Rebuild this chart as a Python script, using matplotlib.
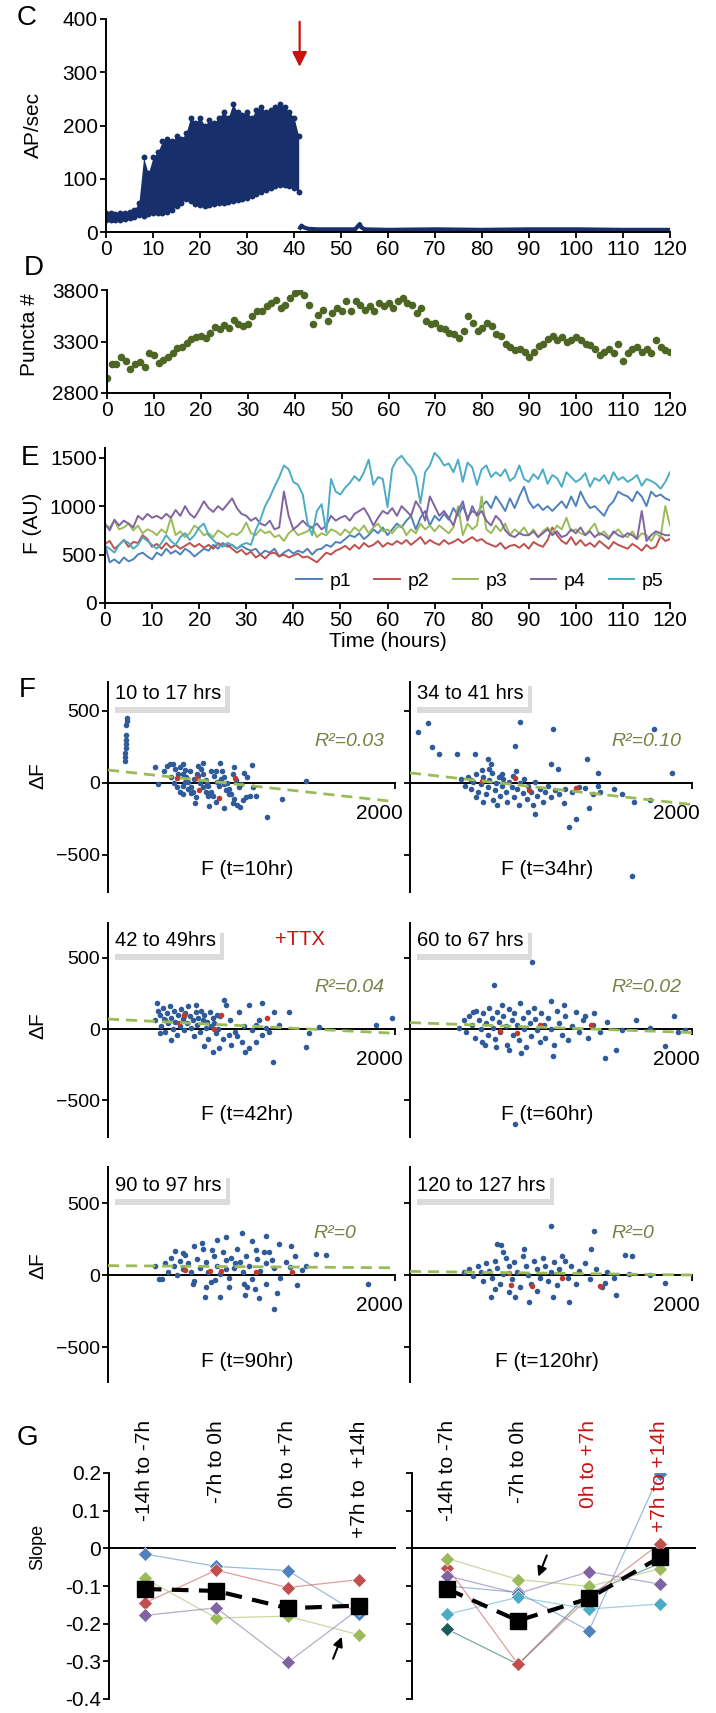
import numpy as np
import matplotlib
matplotlib.use('Agg')
from matplotlib import pyplot as plt
import matplotlib.patheffects as pe

plt.rcParams['font.family'] = ['Liberation Sans', 'DejaVu Sans']
plt.rcParams['font.size'] = 14

W, H = 716, 1713

# ---- C: firing rate (hourly envelope of the dense per-sample cloud) ----
c_t = list(range(42))
c_low = [22, 22, 22, 23, 24, 26, 28, 32, 30, 33, 35, 36, 36, 38, 42, 48, 55, 62, 58, 52,
         50, 48, 50, 52, 55, 54, 56, 58, 60, 62, 64, 68, 72, 75, 78, 82, 86, 88, 88, 86, 82, 75]
c_high = [36, 35, 34, 35, 36, 38, 42, 55, 140, 110, 140, 150, 170, 175, 170, 180, 175, 185, 215, 205,
          215, 200, 210, 205, 215, 225, 215, 240, 225, 220, 225, 215, 230, 235, 225, 230, 235, 240,
          235, 225, 215, 180]
ttx_t = [41.3, 41.6, 42, 43, 45, 50, 53, 54, 54.3, 55, 60, 70, 80, 90, 100, 110, 120]
ttx_ap = [8, 12, 9, 6, 5, 5, 5, 15, 9, 5, 4, 5, 4, 5, 5, 4, 4]

# ---- D: puncta count, hourly ----
d_t = list(range(121))
d_puncta = [2950, 3083, 3077, 3147, 3109, 3036, 3083, 3100, 3050, 3185,
            3173, 3090, 3122, 3153, 3185, 3236, 3249, 3290, 3322, 3345,
            3354, 3338, 3386, 3440, 3418, 3459, 3434, 3513, 3466, 3450,
            3472, 3545, 3593, 3600, 3641, 3673, 3704, 3625, 3657, 3727,
            3768, 3790, 3752, 3657, 3472, 3561, 3609, 3497, 3577, 3625,
            3593, 3689, 3593, 3689, 3657, 3609, 3641, 3593, 3673, 3641,
            3673, 3625, 3689, 3720, 3673, 3657, 3577, 3625, 3497, 3466,
            3481, 3434, 3418, 3386, 3370, 3338, 3402, 3545, 3481, 3402,
            3434, 3481, 3450, 3370, 3358, 3279, 3248, 3216, 3232, 3200,
            3153, 3200, 3254, 3279, 3327, 3358, 3311, 3342, 3295, 3311,
            3342, 3311, 3279, 3264, 3232, 3169, 3200, 3232, 3185, 3279,
            3106, 3185, 3232, 3248, 3200, 3232, 3185, 3311, 3248, 3216, 3200]

# ---- E: fluorescence of five puncta, hourly ----
e_t = list(range(121))
p1 = [600, 420, 450, 410, 470, 430, 450, 500, 520, 480,
      450, 520, 490, 560, 510, 540, 500, 560, 530, 480,
      520, 560, 540, 600, 560, 620, 580, 600, 560, 590,
      560, 540, 560, 500, 540, 520, 560, 480, 520, 550,
      510, 540, 520, 560, 500, 550, 560, 600, 580, 630,
      620, 660, 700, 680, 720, 660, 700, 760, 720, 780,
      700, 760, 820, 780, 850, 900, 760, 880, 950, 800,
      900, 850, 920, 860, 980, 900, 1000, 880, 950, 920,
      1000, 1050, 980, 1100, 1030, 950, 1080, 980, 1100, 1200,
      1050, 980, 1020, 960, 1000, 950, 1000, 1050, 980, 1100,
      1000, 1150, 1050, 980, 1000, 950, 900, 1000, 1050, 1150,
      1120, 1100, 1050, 1150, 1100, 1000, 1150, 1100, 1120, 1080, 1060]
p2 = [610, 640, 560, 600, 650, 580, 630, 620, 700, 660,
      580, 610, 560, 620, 570, 600, 560, 590, 620, 580,
      610, 570, 600, 560, 620, 590, 600, 560, 520, 550,
      500, 530, 470, 500, 460, 510, 520, 480, 500, 470,
      490, 510, 470, 480, 450, 420, 470, 520, 500, 540,
      560, 590, 550, 600, 560, 620, 580, 600, 640, 580,
      620, 600, 640, 610, 650, 600, 640, 680, 610, 650,
      620, 600, 650, 610, 630, 660, 620, 650, 680, 640,
      660, 620, 600, 580, 620, 560, 590, 600, 570, 610,
      560, 630, 600, 580, 650, 780, 700, 640, 610, 680,
      600, 650, 590, 620, 580, 640, 600, 560, 630, 600,
      580, 560, 610, 580, 540, 600, 560, 580, 690, 640, 660]
p3 = [800, 780, 850, 760, 780, 820, 750, 800, 720, 760,
      740, 700, 760, 720, 880, 700, 740, 680, 720, 800,
      760, 700, 720, 680, 750, 720, 680, 720, 700, 740,
      830, 720, 700, 760, 720, 740, 680, 700, 640, 720,
      760, 700, 720, 740, 780, 680, 720, 700, 760, 740,
      700, 760, 720, 780, 740, 800, 720, 780, 820, 740,
      760, 720, 780, 800, 700, 760, 720, 820, 760, 800,
      740, 800, 760, 720, 780, 1000, 700, 820, 760, 800,
      1100, 760, 720, 800, 740, 820, 700, 760, 720, 780,
      700, 760, 680, 740, 780, 720, 800, 760, 880, 740,
      760, 720, 700, 760, 820, 700, 740, 680, 720, 760,
      700, 680, 740, 660, 720, 700, 640, 720, 680, 1000, 800]
p4 = [820, 750, 860, 800, 850, 820, 780, 900, 860, 920,
      880, 900, 870, 920, 880, 960, 900, 1000, 920, 880,
      960, 1050, 980, 940, 1000, 960, 1020, 1080, 980, 920,
      900, 850, 880, 820, 800, 850, 760, 780, 1150, 900,
      760, 800, 850, 800, 780, 820, 760, 800, 900, 850,
      880, 900, 850, 920, 950, 980, 900, 800, 880, 950,
      920, 980, 900, 1000, 950, 900, 1050, 980, 850, 1100,
      1000, 900, 950, 880, 800, 950, 1050, 850, 1000, 900,
      950, 850, 800, 900, 850, 750, 700, 680, 720, 700,
      700, 740, 680, 720, 760, 700, 740, 680, 700, 760,
      720, 780, 700, 740, 680, 720, 700, 660, 740, 700,
      680, 720, 700, 660, 950, 640, 700, 740, 720, 700, 700]
p5 = [590, 560, 520, 600, 650, 620, 560, 600, 680, 640,
      600, 560, 620, 700, 640, 600, 680, 720, 650, 700,
      780, 820, 700, 650, 600, 580, 620, 600, 560, 600,
      620, 600, 750, 860, 1000, 1090, 1200, 1300, 1420, 1380,
      1250, 1220, 1120, 830, 700, 950, 1020, 730, 1280, 1150,
      1120, 1190, 1240, 1310, 1260, 1350, 1480, 1220, 1300, 1280,
      990, 1390, 1480, 1520, 1450, 1400, 1310, 1030, 1350, 1420,
      1550, 1500, 1420, 1440, 1350, 1480, 1250, 1450, 1400, 1220,
      1380, 1420, 1300, 1350, 1310, 1380, 1260, 1300, 1420, 1280,
      1250, 1330, 1280, 1380, 1230, 1320, 1290, 1200, 1350, 1300,
      1250, 1280, 1340, 1200, 1290, 1260, 1320, 1230, 1350, 1270,
      1300, 1250, 1280, 1320, 1210, 1280, 1260, 1230, 1180, 1250, 1350]

# ---- F: change in F vs starting F, per window ----
f1_blue = [(130, 450), (135, 430), (126, 400), (128, 330), (124, 300), (126, 270), (122, 240), (120, 210),
           (118, 180), (116, 150), (330, 110), (350, -10), (390, 80), (410, 120), (430, 130), (455, 130),
           (470, 95), (490, 60), (505, 110), (520, 130), (535, 90), (545, 40), (560, 10), (575, -25),
           (590, -60), (610, -95), (630, 120), (650, 100), (665, 60), (680, 20), (700, -20), (715, -60),
           (735, -90), (755, -130), (780, 140), (795, 80), (810, 40), (830, 0), (845, -40), (860, -80),
           (880, -110), (900, -150), (920, -170), (940, -120), (1000, 125), (960, -100), (990, -90),
           (1030, -90), (440, 40), (460, 0), (480, -30), (500, -60), (520, -20), (540, 10), (560, -40),
           (580, -70), (600, 30), (620, 60), (640, 0), (660, -30), (680, -60), (700, -90), (720, 80),
           (740, 50), (760, 10), (775, -20), (790, 30), (810, -10), (825, -50), (840, -80), (870, 60),
           (890, 20), (910, -30), (930, -10), (950, 70), (970, 40), (520, 60), (570, 80), (630, 50),
           (690, -10), (750, 80), (605, -140), (705, -160), (810, -175), (870, -140), (525, -80),
           (660, 140), (880, 110), (1110, -237), (1215, -109), (1377, 14), (1010, -30)]
f1_red = [(481, 35), (621, 35), (633, -51), (772, -105), (884, 35)]

f2_blue = [(57, 354), (127, 413), (159, 248), (206, 200), (333, 200), (460, 200), (556, 165), (572, 130),
           (778, 424), (746, 259), (1016, 377), (1000, 130), (1048, 94), (1254, 165), (1334, 71),
           (1730, 377), (1857, 71), (1572, -648), (1127, -306), (1175, -247), (1095, -141), (1270, -177),
           (889, -212), (1588, -130), (1238, -35), (1334, -24), (360, 30), (390, -20), (410, 40),
           (430, -40), (450, 10), (470, 60), (480, -60), (500, -10), (510, 90), (520, 40), (540, -80),
           (550, -30), (560, 20), (580, 70), (590, -120), (600, -50), (610, 0), (630, 40), (640, -90),
           (650, -20), (660, 30), (680, -60), (690, -130), (700, 10), (720, -30), (730, 50), (740, -100),
           (760, -40), (770, -150), (780, 0), (800, -70), (810, 30), (830, -110), (840, -20), (860, -60),
           (870, -150), (890, 10), (900, -90), (920, -40), (940, -130), (960, -60), (980, -20),
           (1000, -100), (1030, -50), (1060, -80), (1100, -40), (1150, -60), (1200, -30), (1300, -80),
           (1350, -60), (1450, -40), (1500, -80), (1700, -120), (620, -150), (520, -130), (430, 20),
           (470, -100), (750, 80), (560, 100), (650, 60)]
f2_red = [(508, 12), (746, 35), (842, -47), (1175, -35)]

f3_blue = [(330, 60), (340, 180), (350, 130), (360, 100), (370, 20), (380, 150), (390, 70), (400, -20),
           (410, 110), (420, 40), (430, 160), (440, 80), (450, 0), (460, 130), (470, 50), (480, -40),
           (490, 100), (500, 20), (510, 140), (520, 70), (530, -10), (540, 110), (550, 40), (560, 160),
           (570, 90), (580, 10), (590, 60), (600, -50), (610, 120), (620, 30), (630, 80), (640, -20),
           (650, 130), (660, 60), (670, 100), (680, 10), (690, 50), (700, -70), (710, 120), (720, 20),
           (730, 80), (740, 40), (750, -30), (760, 100), (770, 0), (440, -80), (360, -30), (530, 90),
           (610, 170), (400, 60), (807, 203), (819, 168), (912, 121), (982, 168), (1075, 180),
           (1156, 121), (1261, 121), (1400, -30), (1377, -124), (1470, 16), (1865, 28), (1982, 79),
           (1149, -234), (730, -164), (667, -117), (772, -135), (982, -135), (958, -159), (1028, -89),
           (888, -19), (935, -89), (1121, -19), (1191, 28), (842, -42), (1028, 28), (1075, -42),
           (850, 60), (900, -50), (950, 20), (1000, -10), (1050, 60), (1100, 10), (800, -70), (780, 90),
           (860, -110)]
f3_red = [(493, 40), (528, 98), (784, 98), (737, 0), (1110, 75)]

f4_blue = [(864, 472), (597, 308), (746, -670), (1873, 93), (1810, -121), (1381, -203), (1461, -145),
           (1016, -191), (1000, 194), (1095, 171), (1302, 112), (1238, 93), (350, 10), (380, 60),
           (400, -20), (420, 90), (440, 30), (460, -60), (470, 130), (490, 60), (500, 0), (510, -90),
           (520, 110), (540, 40), (550, -40), (560, 150), (580, 80), (590, 10), (600, -70), (620, 120),
           (630, 50), (640, -20), (650, 170), (660, 90), (680, 20), (690, -110), (700, 140), (720, 60),
           (730, -40), (740, 110), (760, 30), (770, -80), (780, 180), (800, 80), (810, 0), (820, -130),
           (840, 120), (850, 40), (860, -50), (880, 150), (890, 70), (900, -10), (920, -90), (930, 110),
           (950, 30), (960, -60), (980, 80), (1000, 0), (1020, -110), (1040, 130), (1060, 40),
           (1080, -40), (1100, 90), (1120, -80), (1150, 20), (1180, 120), (1200, -20), (1230, 60),
           (1260, -60), (1300, 30), (1350, -20), (1400, 50), (1500, -10), (1600, 60), (1700, 10),
           (1900, -20), (1950, -10), (450, 120), (530, -110), (610, -130), (700, -150), (790, -170)]
f4_red = [(635, -16), (762, -28), (921, 30), (1286, 30)]

f5_blue = [(353, -28), (377, -28), (465, 170), (674, -156), (783, -156), (970, -81), (958, -140),
           (1023, -100), (1051, -163), (1156, -233), (1179, -123), (935, 291), (1098, 272), (1191, 216),
           (1272, 202), (1447, 147), (1516, 140), (1814, -63), (1314, -70), (761, 244), (819, 267),
           (726, 174), (656, 221), (1005, 233), (1028, 174), (1144, 105), (1086, 163), (1270, 58),
           (1354, 35), (819, 105), (888, 81), (842, -81), (749, -35), (1098, 81), (330, 60), (400, 80),
           (420, 20), (440, 120), (460, 60), (480, 0), (500, 100), (520, 40), (540, 140), (560, 80),
           (580, 20), (600, -40), (620, 110), (640, 50), (660, 180), (680, 90), (700, 20), (720, -50),
           (740, 130), (760, 60), (780, 10), (800, 160), (820, 40), (840, -20), (860, 120), (880, 50),
           (900, 180), (920, 90), (940, 20), (960, 130), (980, 60), (1000, -30), (1040, 110), (1060, 30),
           (1120, 160), (1160, 50), (1200, -20), (1240, 90), (1300, 130), (1380, 60), (590, -60),
           (680, -80), (950, -60), (1100, -60), (520, 150), (600, 200)]
f5_red = [(535, 35), (714, 30), (784, 30), (1028, 23), (1279, 23)]

f6_blue = [(1000, 341), (1302, 306), (1524, 142), (1572, 131), (1286, 178), (619, 213), (810, 178),
           (746, -150), (1016, -150), (1127, -185), (1381, -56), (1461, -138), (572, -150), (841, -185),
           (1810, -56), (1080, 131), (646, 208), (380, 20), (420, 40), (450, -10), (480, 60), (500, 20),
           (520, -40), (540, 80), (560, 30), (580, -20), (600, 100), (620, 50), (640, -60), (660, 10),
           (680, 120), (700, 60), (720, -30), (740, 90), (760, 20), (780, -80), (800, 130), (820, 60),
           (840, 0), (860, -60), (880, 100), (900, 40), (920, -20), (940, 120), (960, 60), (980, -40),
           (1000, 20), (1020, 90), (1040, -70), (1060, 40), (1100, 100), (1120, -20), (1140, 60),
           (1180, -60), (1200, 30), (1240, 80), (1280, -30), (1320, 40), (1360, -80), (1400, 20),
           (1450, -20), (1550, 10), (1700, 0), (600, -100), (700, -120), (900, -110), (660, 160)]
f6_red = [(714, -68), (864, -79), (1080, -21), (1350, -79), (700, 14)]

f_titles = ['10 to 17 hrs', '34 to 41 hrs', '42 to 49hrs', '60 to 67 hrs', '90 to 97 hrs', '120 to 127 hrs']
f_xlabels = ['F (t=10hr)', 'F (t=34hr)', 'F (t=42hr)', 'F (t=60hr)', 'F (t=90hr)', 'F (t=120hr)']
f_r2 = ['R²=0.03', 'R²=0.10', 'R²=0.04', 'R²=0.02', 'R²=0', 'R²=0']
f_fit = [(90, -130), (70, -150), (70, -30), (45, -25), (65, 50), (25, 0)]   # fit value at F=0 and F=2000
f_blue = [f1_blue, f2_blue, f3_blue, f4_blue, f5_blue, f6_blue]
f_red = [f1_red, f2_red, f3_red, f4_red, f5_red, f6_red]

# ---- G: slope per window ----
g_cats = ['-14h to -7h', '-7h to 0h', '0h to +7h', '+7h to  +14h']
g_cats_r = ['-14h to -7h', '-7h to 0h', '0h to +7h', '+7h to +14h']
g_left = {'#4F81BD': [-0.015, -0.048, -0.059, -0.175],
          '#C0504D': [-0.145, -0.058, -0.104, -0.083],
          '#9BBB59': [-0.080, -0.185, -0.180, -0.230],
          '#8064A2': [-0.178, -0.158, -0.303, -0.160]}
g_left_mean = [-0.108, -0.113, -0.159, -0.152]
g_right = {'#1D5A5E': [-0.215, -0.308, -0.120, -0.040],
           '#4F81BD': [-0.100, -0.117, -0.219, 0.198],
           '#C0504D': [-0.051, -0.308, -0.130, 0.012],
           '#8064A2': [-0.073, -0.120, -0.062, -0.095],
           '#4BACC6': [-0.175, -0.130, -0.161, -0.148],
           '#9BBB59': [-0.027, -0.083, -0.101, -0.055]}
g_right_mean = [-0.108, -0.192, -0.133, -0.024]

navy = '#172f6b'
olive = '#4e6623'
dot_blue = '#2f5b9a'
dot_red = '#c0392b'
tick_fs = 15


fig = plt.figure(figsize=(W / 100, H / 100), dpi=100, facecolor='white')


def px_axes(l, t, r, b):
    return fig.add_axes([l / W, 1 - b / H, (r - l) / W, (b - t) / H])


def ftext(x, y, s, **kw):
    fig.text(x / W, 1 - y / H, s, ha='center', va='center', **kw)


def clean(ax):
    for s in ['top', 'right']:
        ax.spines[s].set_visible(False)
    for s in ['left', 'bottom']:
        ax.spines[s].set_linewidth(1.4)
    ax.tick_params(direction='out', length=4, width=1.3, labelsize=tick_fs, pad=2)


# C
ax = px_axes(106, 19, 670, 232)
clean(ax)
ax.fill_between(c_t, c_low, c_high, color=navy, lw=0)
ax.scatter(c_t, c_low, s=18, color=navy, lw=0)
ax.scatter(c_t, c_high, s=18, color=navy, lw=0)
ax.plot(ttx_t, ttx_ap, color=navy, lw=3)
ax.set_xlim(0, 120)
ax.set_ylim(0, 400)
ax.set_xticks(range(0, 121, 10))
ax.set_yticks(range(0, 401, 100))
ax.annotate('', xy=(41.2, 305), xytext=(41.2, 400), annotation_clip=False,
            arrowprops=dict(arrowstyle='-|>', color='#cc1111', lw=1.6, mutation_scale=22))

# D
ax = px_axes(107, 290, 670, 393)
clean(ax)
ax.scatter(d_t, d_puncta, s=30, color=olive, lw=0)
ax.set_xlim(0, 120)
ax.set_ylim(2800, 3800)
ax.set_xticks(range(0, 121, 10))
ax.set_yticks([2800, 3300, 3800])

# E
ax = px_axes(105, 448, 670, 603)
clean(ax)
for vals, col, lab in zip([p1, p2, p3, p4, p5],
                          ['#4F81BD', '#C0504D', '#9BBB59', '#8064A2', '#4BACC6'],
                          ['p1', 'p2', 'p3', 'p4', 'p5']):
    ax.plot(e_t, vals, color=col, lw=1.4, label=lab)
ax.set_xlim(0, 120)
ax.set_ylim(0, 1600)
ax.set_xticks(range(0, 121, 10))
ax.set_yticks([0, 500, 1000, 1500])
ax.set_xlabel('Time (hours)', fontsize=15, labelpad=1)
ax.legend(ncol=5, frameon=False, loc='center right', bbox_to_anchor=(1.02, 0.14),
          fontsize=14, handlelength=1.3, columnspacing=1.2, handletextpad=0.4)

# F
rows = [(682, 892, -757, 701), (923, 1137, -760, 746), (1167, 1382, -743, 750)]
cols = [(108, 395), (410, 692)]
for i in range(6):
    r, c = divmod(i, 2)
    top, bot, y0, y1 = rows[r]
    l, rr = cols[c]
    ax = px_axes(l, top, rr, bot)
    clean(ax)
    ax.tick_params(labelsize=14)
    ax.spines['bottom'].set_position(('data', 0))
    ax.set_xlim(0, 2000)
    ax.set_ylim(y0, y1)
    ax.set_xticks([2000])
    ax.set_xticklabels([''])
    ax.set_yticks([-500, 0, 500])
    if c == 1:
        ax.set_yticklabels([])
    bx, by = zip(*f_blue[i])
    ax.scatter(bx, by, s=16, color=dot_blue, lw=0, zorder=3)
    rx, ry = zip(*f_red[i])
    ax.scatter(rx, ry, s=16, color=dot_red, lw=0, zorder=4)
    ax.plot([0, 2000], list(f_fit[i]), color='#9BBB59', lw=2, dashes=(4, 2.5), zorder=5, clip_on=False)
    ax.text(1890, -215, '2000', ha='center', va='center', fontsize=15)
    ax.text(970, -600, f_xlabels[i], ha='center', va='center', fontsize=15)
    ax.text(1680 if i < 4 else 1580, 290, f_r2[i], ha='center', va='center', fontsize=14,
            style='italic', color='#7a7f45')
    t = ax.text(50, 620, f_titles[i], ha='left', va='center', fontsize=14.5, zorder=6,
                bbox=dict(boxstyle='square,pad=0.2', fc='white', ec='none'))
    t.get_bbox_patch().set_path_effects([
        pe.SimplePatchShadow(offset=(3, -4), shadow_rgbFace='0.6', alpha=0.35), pe.Normal()])
    if i == 2:
        ax.text(1340, 627, '+TTX', ha='center', va='center', fontsize=14.5, color='#cc1111')

# G
for gi, (l, rr) in enumerate([(109, 395), (412, 695)]):
    ax = px_axes(l, 1473, rr, 1699)
    clean(ax)
    ax.spines['bottom'].set_position(('data', 0))
    ax.tick_params(axis='x', length=0)
    ax.set_xticks([])
    ax.set_xlim(0.5, 4.5)
    ax.set_ylim(-0.4, 0.2)
    ax.set_yticks([0.2, 0.1, 0, -0.1, -0.2, -0.3, -0.4])
    if gi == 0:
        ax.set_yticklabels(['0.2', '0.1', '0', '-0.1', '-0.2', '-0.3', '-0.4'])
        series, mean, cats = g_left, g_left_mean, g_cats
        cat_cols = ['black'] * 4
    else:
        ax.set_yticklabels([])
        series, mean, cats = g_right, g_right_mean, g_cats_r
        cat_cols = ['black', 'black', '#cc1111', '#cc1111']
    xs = [1, 2, 3, 4]
    for col, vals in series.items():
        ax.plot(xs, vals, color=col, lw=0.9, alpha=0.55, zorder=2)
        ax.plot(xs, vals, 'D', color=col, ms=7, mec='white', mew=0.4, zorder=3)
    ax.plot(xs, mean, color='black', lw=3, dashes=(4, 2.5), zorder=4)
    ax.plot(xs, mean, 's', color='black', ms=11, zorder=5)
    for x, s, cc in zip(xs, cats, cat_cols):
        ax.text(x, 0.34, s, rotation=90, ha='center', va='top', fontsize=15, color=cc, clip_on=False)
    if gi == 0:
        ax.annotate('', xy=(3.77, -0.228), xytext=(3.62, -0.30),
                    arrowprops=dict(arrowstyle='-|>', color='black', lw=1.5, mutation_scale=14))
    else:
        ax.annotate('', xy=(2.27, -0.082), xytext=(2.42, -0.012),
                    arrowprops=dict(arrowstyle='-|>', color='black', lw=1.5, mutation_scale=14))

# panel letters and y labels
for letter, (x, y) in zip('CDEFG', [(27, 18), (34, 268), (30, 458), (27, 690), (27, 1438)]):
    ftext(x, y, letter, fontsize=20)
ftext(33, 125, 'AP/sec', rotation=90, fontsize=15)
ftext(30, 335, 'Puncta #', rotation=90, fontsize=15)
ftext(33, 523, 'F (AU)', rotation=90, fontsize=15)
for y in [776, 1026, 1266]:
    ftext(38, y, 'ΔF', rotation=90, fontsize=15)
ftext(38, 1547, 'Slope', rotation=90, fontsize=13)

fig.savefig('out.png', dpi=100, facecolor='white')
